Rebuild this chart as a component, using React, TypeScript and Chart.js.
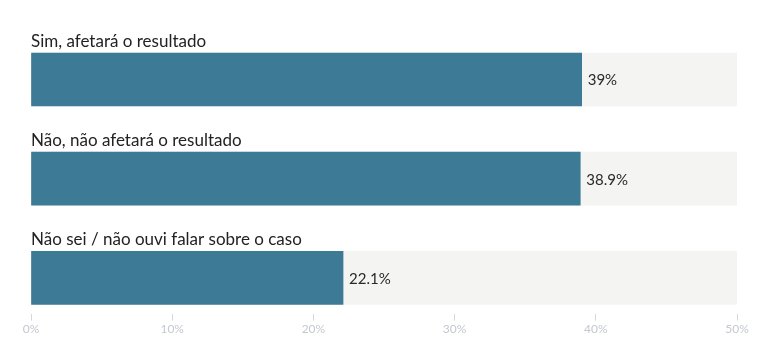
import React, { useEffect, useRef } from "react";
import { Chart, registerables } from "chart.js";

Chart.register(...registerables);

const categories: string[] = [
  "Sim, afetará o resultado",
  "Não, não afetará o resultado",
  "Não sei / não ouvi falar sobre o caso",
];
const values: number[] = [39, 38.9, 22.1];
const valueLabels: string[] = ["39%", "38.9%", "22.1%"];
const axisMax = 50;
const tickStep = 10;

const BAR_COLOR = "#3d7a96";
const BG_COLOR = "#f4f4f3";

const labelPlugin = {
  id: "labelPlugin",
  afterDatasetsDraw(chart: any) {
    const { ctx, scales, chartArea } = chart;
    const xs = scales.x;
    const ys = scales.y;
    ctx.save();
    categories.forEach((cat, i) => {
      const yc = ys.getPixelForValue(i);
      ctx.font = "17px Lato";
      ctx.fillStyle = "#222222";
      ctx.textAlign = "left";
      ctx.textBaseline = "alphabetic";
      ctx.fillText(cat, chartArea.left, yc - 26.5 - 6);
      ctx.font = "15px Lato";
      ctx.fillStyle = "#2a2a2a";
      ctx.textBaseline = "middle";
      ctx.fillText(valueLabels[i], xs.getPixelForValue(values[i]) + 6, yc + 1);
    });
    ctx.restore();
  },
};

export default function App() {
  const ref = useRef<HTMLCanvasElement>(null);
  useEffect(() => {
    if (!ref.current) return;
    const chart = new Chart(ref.current, {
      type: "bar",
      data: {
        datasets: [
          {
            data: values.map((v, i) => ({ x: v, y: i })),
            backgroundColor: BAR_COLOR,
            barThickness: 53,
            grouped: false,
          } as any,
          {
            data: values.map((_, i) => ({ x: axisMax, y: i })),
            backgroundColor: BG_COLOR,
            barThickness: 53,
            grouped: false,
          } as any,
        ],
      },
      options: {
        indexAxis: "y",
        animation: false,
        responsive: true,
        maintainAspectRatio: false,
        layout: { padding: { left: 31, right: 31, top: 20, bottom: 20 } },
        plugins: { legend: { display: false }, tooltip: { enabled: false } },
        scales: {
          y: {
            type: "linear",
            reverse: true,
            offset: false,
            min: -0.6,
            max: 2.36,
            display: false,
          },
          x: {
            type: "linear",
            min: 0,
            max: axisMax,
            border: { display: false },
            grid: {
              drawOnChartArea: false,
              drawTicks: true,
              tickLength: 7,
              color: "#d4d7dc",
            },
            ticks: {
              stepSize: tickStep,
              padding: 1,
              color: "#c4c8cf",
              font: { family: "Lato", size: 12 },
              callback: (v: any) => v + "%",
            },
          },
        },
      },
      plugins: [labelPlugin],
    });
    return () => chart.destroy();
  }, []);
  return (
    <div style={{ position: "absolute", left: 0, top: 0, width: 768, height: 357 }}>
      <canvas ref={ref} />
    </div>
  );
}
